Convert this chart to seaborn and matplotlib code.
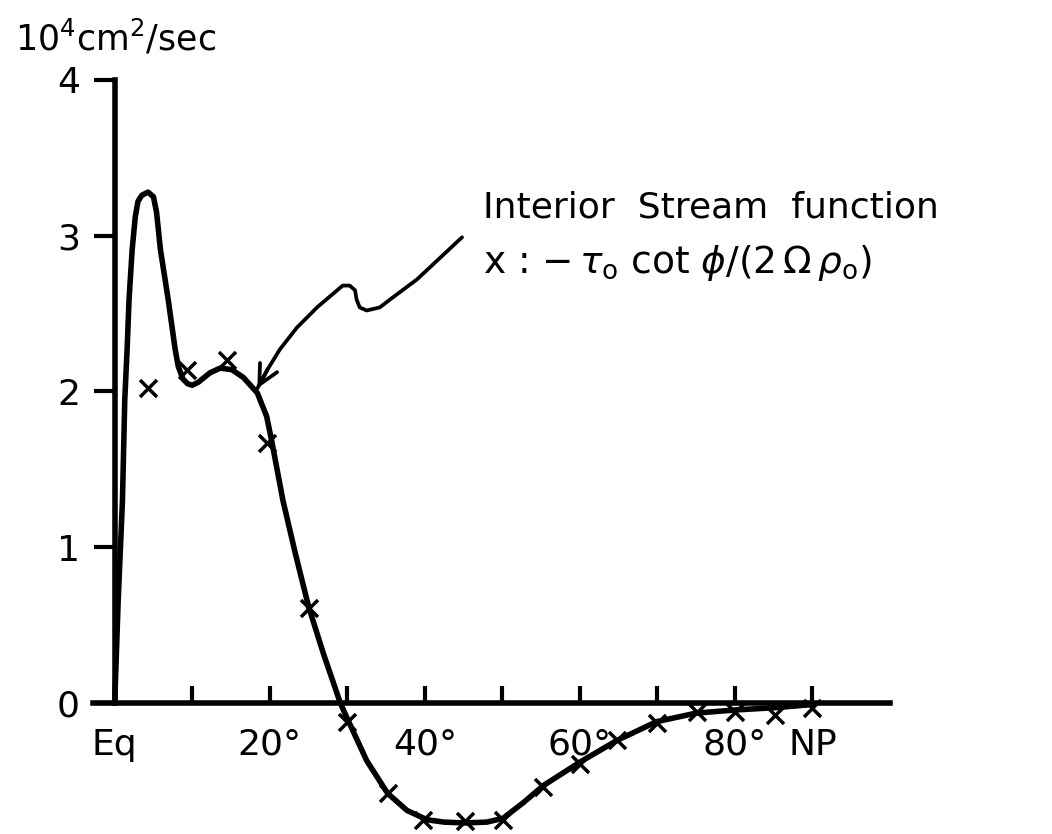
import seaborn as sns
import matplotlib.pyplot as plt

# Interior stream function
# latitude in degrees, value in 10^4 cm^2/sec
curve_lat = [0.0, 0.45, 1.0, 1.3, 1.6, 1.85, 2.25, 2.65, 3.0, 3.5, 4.3, 5.0, 5.4,
             5.9, 6.9, 7.8, 8.2, 8.8, 9.4, 10.0, 10.8, 12.3, 13.6, 15.1, 16.6,
             18.4, 19.6, 20.3, 21.7, 23.3, 25.0, 26.9, 29.1, 30.0, 32.5, 35.2,
             37.7, 40.3, 42.5, 45.2, 48.0, 50.1, 52.7, 55.3, 60.0, 64.8, 69.9,
             75.0, 80.0, 85.2, 90.0]
curve_psi = [0.0, 0.66, 1.30, 1.95, 2.27, 2.59, 2.91, 3.12, 3.22, 3.26, 3.28, 3.25,
             3.15, 2.91, 2.59, 2.27, 2.16, 2.08, 2.05, 2.04, 2.06, 2.12, 2.15, 2.14,
             2.09, 1.99, 1.84, 1.67, 1.30, 0.96, 0.62, 0.32, 0.0, -0.10, -0.37,
             -0.58, -0.69, -0.75, -0.765, -0.77, -0.765, -0.74, -0.64, -0.53,
             -0.38, -0.24, -0.12, -0.065, -0.045, -0.03, -0.01]

# x marks: -tau0 cot(phi) / (2 Omega rho0)
mark_lat = [4.3, 9.3, 14.5, 19.7, 25.0, 30.0, 35.3, 39.8, 45.2, 50.1, 55.3,
            60.0, 64.8, 70.0, 75.1, 80.0, 85.2, 90.0]
mark_psi = [2.02, 2.14, 2.20, 1.67, 0.61, -0.12, -0.58, -0.75, -0.76, -0.75,
            -0.54, -0.39, -0.24, -0.13, -0.06, -0.06, -0.08, -0.03]

# hand drawn leader from the label to the curve
arrow_lat = [44.8, 39.0, 35.5, 34.2, 32.5, 31.6, 31.2, 31.0, 30.3, 29.4, 28.7,
             26.1, 23.5, 21.3, 19.7, 18.4]
arrow_psi = [2.99, 2.72, 2.59, 2.54, 2.52, 2.54, 2.59, 2.65, 2.68, 2.68, 2.65,
             2.54, 2.41, 2.27, 2.14, 2.02]

x_ticks = [0, 10, 20, 30, 40, 50, 60, 70, 80, 90]
x_labels = ['Eq', '', '20°', '', '40°', '', '60°', '', '80°', 'NP']
y_ticks = [0, 1, 2, 3, 4]

sns.set_style('ticks')
plt.rcParams['font.family'] = ['DejaVu Sans']
plt.rcParams['mathtext.fontset'] = 'dejavusans'
for key in ['text.color', 'axes.edgecolor', 'xtick.color', 'ytick.color',
            'xtick.labelcolor', 'ytick.labelcolor']:
    plt.rcParams[key] = 'black'

fig = plt.figure(figsize=(10.52, 8.34), dpi=100)
ax = fig.add_axes([0.0884, 0.0077, 0.7576, 0.8964])

sns.lineplot(x=curve_lat, y=curve_psi, sort=False, estimator=None,
             color='black', lw=4, ax=ax)
sns.scatterplot(x=mark_lat, y=mark_psi, marker='x', s=150, color='black',
                linewidth=2.5, ax=ax, clip_on=False, zorder=3)
sns.lineplot(x=arrow_lat, y=arrow_psi, sort=False, estimator=None,
             color='black', lw=2.7, ax=ax)
ax.annotate('', xy=(arrow_lat[-1], arrow_psi[-1]),
            xytext=(arrow_lat[-2], arrow_psi[-2]),
            arrowprops=dict(arrowstyle='->,head_length=0.7,head_width=0.35',
                            mutation_scale=20, lw=2.7, color='black',
                            shrinkA=0, shrinkB=0))

ax.set_xlim(-2.8, 100)
ax.set_ylim(-0.8, 4.0)
ax.spines['left'].set_position(('data', 0))
ax.spines['left'].set_bounds(0, 4)
ax.spines['bottom'].set_position(('data', 0))
ax.spines['top'].set_visible(False)
ax.spines['right'].set_visible(False)
for s in ['left', 'bottom']:
    ax.spines[s].set_linewidth(4)

ax.set_xticks(x_ticks, x_labels)
ax.set_yticks(y_ticks)
ax.tick_params(axis='x', direction='in', length=12, width=3, pad=18, labelsize=26)
ax.tick_params(axis='y', direction='out', length=15, width=3, pad=10, labelsize=26)

ax.text(47.5, 3.12, 'Interior  Stream  function', fontsize=26, va='baseline')
ax.text(47.5, 2.76, r'x : $-\,\tau_{\mathrm{o}}$ cot $\phi/(2\,\Omega\,\rho_{\mathrm{o}})$',
        fontsize=27, va='baseline')

fig.text(15 / 1052, 1 - 50 / 834, r'$10^4$cm$^2$/sec', fontsize=25,
         va='baseline', ha='left')

fig.savefig('out.png', dpi=100)
